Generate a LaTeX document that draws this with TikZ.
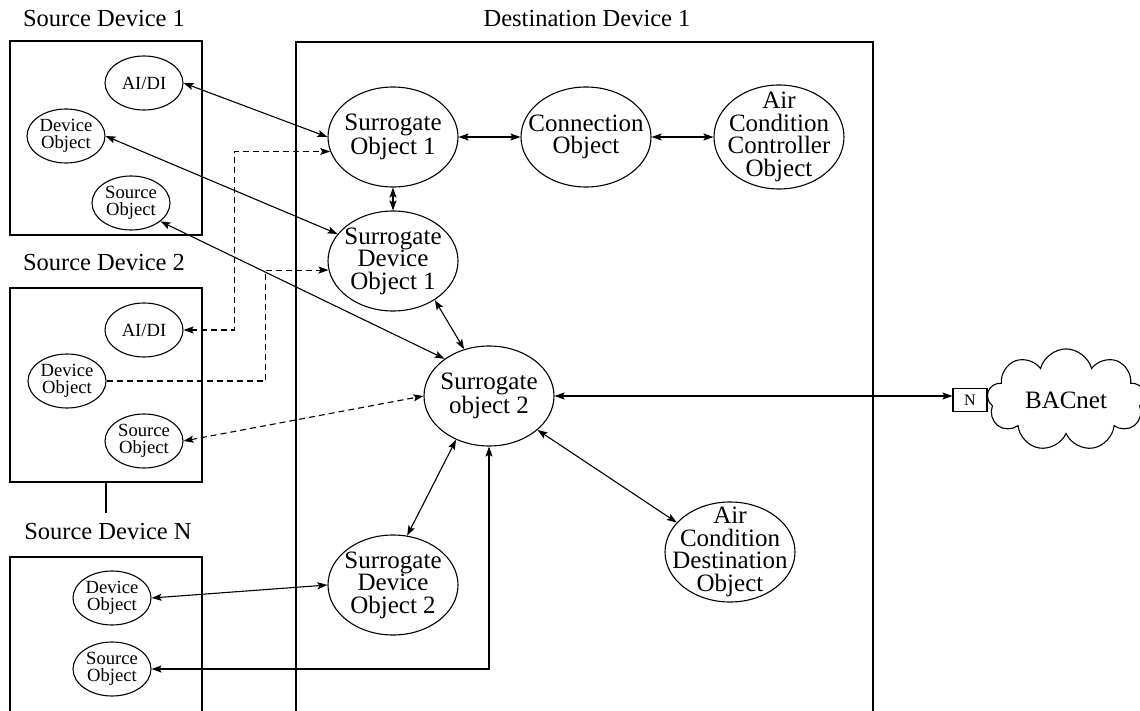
\documentclass[tikz,border=0pt]{standalone}
\usepackage{fontspec}
\setmainfont{Liberation Serif}
\usetikzlibrary{arrows.meta}
\usetikzlibrary{shapes.geometric, shapes.symbols, positioning}

\begin{document}
\begin{tikzpicture}[x=1pt,y=-1pt,>={Stealth[length=10pt,width=7pt,inset=2pt]},line width=1.1pt,node distance=193pt,
  big node/.style={ellipse,draw,minimum width=130pt,minimum height=100pt,inner xsep=-15pt,inner ysep=-16pt,align=center,font=\fontsize{25}{22.6}\selectfont},
  small node/.style={ellipse,draw,minimum width=78pt,minimum height=54pt,inner sep=-1pt,align=center,font=\fontsize{18.6}{17}\selectfont},
  dev box/.style={rectangle,draw,minimum width=192pt,minimum height=194pt},
  title/.style={font=\fontsize{24.5}{28}\selectfont},
  dash link/.style={dash pattern=on 6pt off 4pt}]

  \useasboundingbox (0,0) rectangle (1140,711);

  % device boxes
  \node[dev box] (box1) at (106,138) {};
  \node[dev box] (box2) at (106,385) {};
  \draw (10,715) |- (202,557) -- (202,715);
  \draw (296,715) |- (873,42) -- (873,715);

  \node[title] (lab1) at (104,19) {Source Device 1};
  \node[title] (lab2) at (104,263) {Source Device 2};
  \node[title] (labN) at (108,532) {Source Device N};
  \node[title] (labD) at (587,19) {Destination Device 1};

  % source objects
  \node[small node] (aidi1) at (144,83)  {AI/DI};
  \node[small node] (dev1)  at (66,136)  {Device\\Object};
  \node[small node] (src1)  at (131,203) {Source\\Object};
  \node[small node] (aidi2) at (144,330) {AI/DI};
  \node[small node] (dev2)  at (67,381)  {Device\\Object};
  \node[small node] (src2)  at (144,441) {Source\\Object};
  \node[small node] (devN)  at (112,598) {Device\\Object};
  \node[small node] (srcN)  at (112,669) {Source\\Object};

  % destination objects
  \node[big node] (so1)  at (393,137)      {Surrogate\\Object 1};
  \node[big node] (conn) [right of=so1]    {Connection\\Object};
  \node[big node, minimum height=104pt] (acc) [right of=conn] {Air\\Condition\\Controller\\Object};
  \node[big node] (sdo1) at (393,261)      {Surrogate\\Device\\Object 1};
  \node[big node] (so2)  at (489,396)      {Surrogate\\object 2};
  \node[big node] (sdo2) at (393,585)      {Surrogate\\Device\\Object 2};
  \node[big node] (acdo) at (730,552)      {Air\\Condition\\Destination\\Object};

  % network
  \node[draw,minimum width=34pt,minimum height=23pt,inner sep=0pt,font=\fontsize{16}{16}\selectfont] (nic) at (970,400) {N};
  \node[cloud,draw,cloud puffs=9,aspect=1.7,minimum width=158pt,minimum height=94pt,font=\fontsize{25}{25}\selectfont] (bac) [right=0pt of nic] {BACnet};

  \path[<->]
    (aidi1.east) edge (so1.west)
    (dev1.east)  edge (sdo1.154)
    (src1.-32)   edge (so2.140)
    (so1.south)  edge (sdo1.north)
    (so1.east)   edge (conn.west)
    (conn.east)  edge (acc.west)
    (sdo1.-43)   edge (so2.118)
    (so2.-127)   edge (sdo2.74)
    (so2.-35)    edge (acdo.151)
    (so2.east)   edge (so2.east -| nic.west)
    (devN.east)  edge (sdo2.west);
  \draw[<->] (srcN.east) -| (so2.south);
  \draw[<->,dash link] (aidi2.east) -- ++(51,0) |- (so1.-167);
  \draw[->,dash link] (dev2.east) -- ++(159,0) |- (sdo1.-172);
  \draw[<->,dash link] (src2.east) -- (so2.west);
  \draw (box2.south) -- ++(0,30);
\end{tikzpicture}
\end{document}
